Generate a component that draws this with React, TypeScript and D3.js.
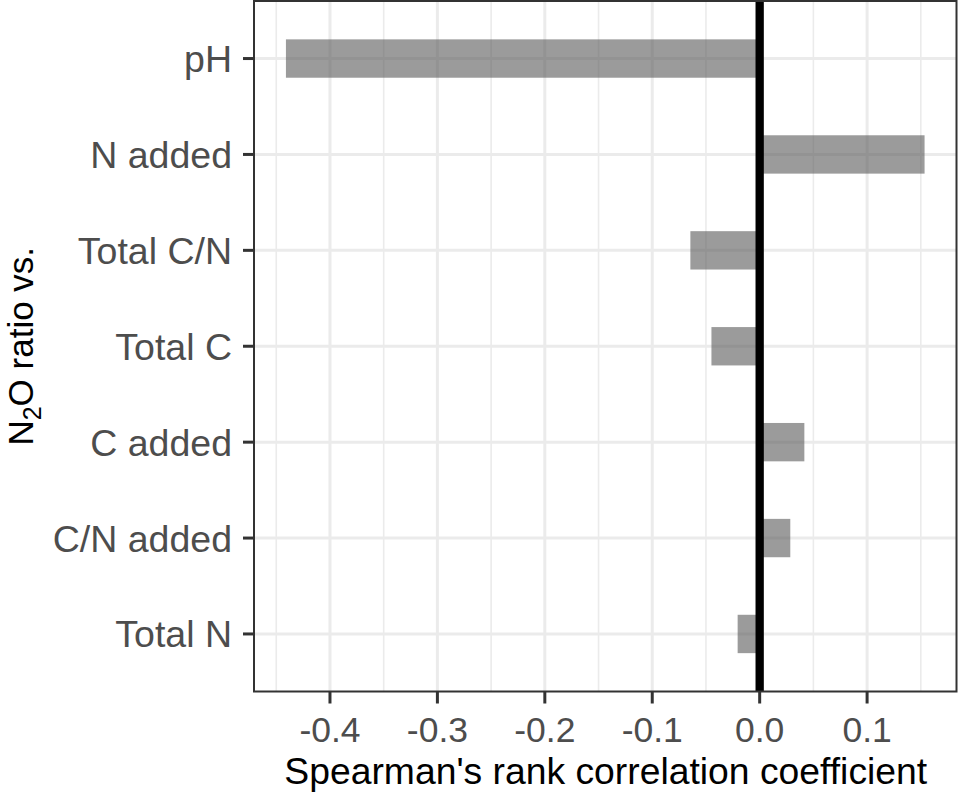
import React from "react";
import * as d3 from "d3";

const categories = ["pH", "N added", "Total C/N", "Total C", "C added", "C/N added", "Total N"];
const values = [-0.441, 0.1535, -0.0645, -0.0449, 0.0416, 0.0285, -0.0205];
const xTicks = [-0.4, -0.3, -0.2, -0.1, 0.0, 0.1];
const xMinorTicks = [-0.45, -0.35, -0.25, -0.15, -0.05, 0.05, 0.15];

const W = 958;
const H = 795;
const panel = { left: 254, right: 956.5, top: 1, bottom: 691.5 };
const FONT = "'Liberation Sans', Arial, Helvetica, sans-serif";

export default function App() {
  const lo = Math.min(0, d3.min(values) as number);
  const hi = Math.max(0, d3.max(values) as number);
  const pad = (hi - lo) * 0.05;
  const x = d3.scaleLinear().domain([lo - pad, hi + pad]).range([panel.left, panel.right]);
  const y = d3
    .scalePoint<string>()
    .domain(categories)
    .range([panel.top, panel.bottom])
    .padding(0.6);
  const step = y.step();
  const barH = step * 0.4;

  return (
    <svg
      width={W}
      height={H}
      style={{ position: "absolute", left: 0, top: 0, background: "#fff" }}
      fontFamily={FONT}
    >
      <rect x={0} y={0} width={W} height={H} fill="#fff" />
      {/* grid */}
      {xMinorTicks.map((t) => (
        <line
          key={"mn" + t}
          x1={x(t)}
          x2={x(t)}
          y1={panel.top}
          y2={panel.bottom}
          stroke="#ebebeb"
          strokeWidth={1.6}
        />
      ))}
      {xTicks.map((t) => (
        <line
          key={"mj" + t}
          x1={x(t)}
          x2={x(t)}
          y1={panel.top}
          y2={panel.bottom}
          stroke="#ebebeb"
          strokeWidth={3}
        />
      ))}
      {categories.map((c) => (
        <line
          key={"hg" + c}
          x1={panel.left}
          x2={panel.right}
          y1={y(c)}
          y2={y(c)}
          stroke="#ebebeb"
          strokeWidth={3}
        />
      ))}
      {/* bars */}
      {categories.map((c, i) => {
        const v = values[i];
        const x0 = x(Math.min(0, v));
        const x1 = x(Math.max(0, v));
        return (
          <rect
            key={"b" + c}
            x={x0}
            y={(y(c) as number) - barH / 2}
            width={x1 - x0}
            height={barH}
            fill="#595959"
            fillOpacity={0.6}
          />
        );
      })}
      {/* zero line */}
      <line x1={x(0)} x2={x(0)} y1={panel.top} y2={panel.bottom} stroke="#000" strokeWidth={8.3} />
      {/* border */}
      <rect
        x={panel.left}
        y={panel.top}
        width={panel.right - panel.left}
        height={panel.bottom - panel.top}
        fill="none"
        stroke="#333333"
        strokeWidth={2}
      />
      {/* y ticks & labels */}
      {categories.map((c) => (
        <g key={"yt" + c}>
          <line
            x1={panel.left - 11}
            x2={panel.left}
            y1={y(c)}
            y2={y(c)}
            stroke="#333333"
            strokeWidth={3}
          />
          <text
            x={panel.left - 22}
            y={y(c)}
            dy="0.36em"
            textAnchor="end"
            fontSize={37.5}
            fill="#4d4d4d"
          >
            {c}
          </text>
        </g>
      ))}
      {/* x ticks & labels */}
      {xTicks.map((t) => (
        <g key={"xt" + t}>
          <line
            x1={x(t)}
            x2={x(t)}
            y1={panel.bottom}
            y2={panel.bottom + 12}
            stroke="#333333"
            strokeWidth={3}
          />
          <text x={x(t)} y={742} textAnchor="middle" fontSize={35.5} fill="#4d4d4d">
            {d3.format(".1f")(t).replace("−", "-")}
          </text>
        </g>
      ))}
      {/* axis titles */}
      <text
        x={(panel.left + panel.right) / 2 + 0.5}
        y={784}
        textAnchor="middle"
        fontSize={37.3}
        fill="#000"
      >
        Spearman's rank correlation coefficient
      </text>
      <text
        transform={`translate(33, ${(panel.top + panel.bottom) / 2}) rotate(-90)`}
        textAnchor="middle"
        fontSize={35}
        fill="#000"
      >
        <tspan>N</tspan>
        <tspan fontSize={25} dy={8}>2</tspan>
        <tspan dy={-8}>O ratio vs.</tspan>
      </text>
    </svg>
  );
}
